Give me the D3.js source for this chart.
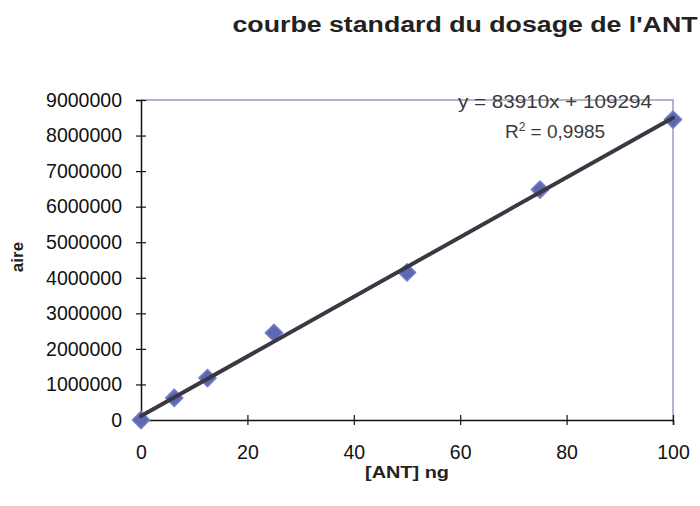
<!DOCTYPE html>
<html>
<head>
<meta charset="utf-8">
<script src="https://cdn.jsdelivr.net/npm/d3@7"></script>
<style>
  body { margin: 0; background: #fff; }
  svg { display: block; font-family: "Liberation Sans", Arial, sans-serif; }
</style>
</head>
<body>
<svg id="chart" width="700" height="506"></svg>
<script>
// data
const concentrations = [0, 6.25, 12.5, 25, 50, 75, 100];
const areas = [0, 620000, 1180000, 2450000, 4150000, 6480000, 8450000];
const xTicks = [0, 20, 40, 60, 80, 100];
const yTicks = [0, 1000000, 2000000, 3000000, 4000000, 5000000, 6000000, 7000000, 8000000, 9000000];
const slope = 83910;
const intercept = 109294;
const eqLabel = "y = 83910x + 109294";
const r2Value = "0,9985";

const svg = d3.select("svg#chart");
const margin = { left: 141, right: 27, top: 100, bottom: 86 };
const width = svg.attr("width") - margin.left - margin.right;
const height = svg.attr("height") - margin.top - margin.bottom;

const x = d3.scaleLinear([0, 100], [0, width]);
const y = d3.scaleLinear([0, 9000000], [height, 0]);

const g = svg.append("g")
  .attr("transform", `translate(${margin.left}, ${margin.top})`);

// title (the scan is a bit wider than the font, so stretch it)
svg.append("text")
  .attr("x", 465)
  .attr("y", 32)
  .attr("text-anchor", "middle")
  .attr("font-size", 22)
  .attr("font-weight", "bold")
  .attr("fill", "#222")
  .attr("textLength", 465)
  .attr("lengthAdjust", "spacingAndGlyphs")
  .text("courbe standard du dosage de l'ANT");

// top/right frame
g.append("path")
  .attr("d", `M0,0H${width}V${height}`)
  .attr("fill", "none")
  .attr("stroke", "#9c9cc4")
  .attr("stroke-width", 1.5);

// axes with cross ticks
const xAxis = g.append("g")
  .attr("transform", `translate(0, ${height})`)
  .call(d3.axisBottom(x).tickValues(xTicks).tickSize(5).tickPadding(20));
xAxis.selectAll(".tick line").attr("y1", -5).attr("y2", 5);

const yAxis = g.append("g")
  .call(d3.axisLeft(y).tickValues(yTicks).tickSize(5).tickPadding(14).tickFormat(d3.format("d")));
yAxis.selectAll(".tick line").attr("x1", 5).attr("x2", -5);

[xAxis, yAxis].forEach(a => {
  a.select(".domain").attr("stroke", "#111").attr("stroke-width", 1.5);
  a.selectAll(".tick line").attr("stroke", "#111").attr("stroke-width", 1.2);
  a.selectAll(".tick text")
    .attr("font-size", 19.5)
    .attr("font-family", "Liberation Sans, Arial, sans-serif")
    .attr("fill", "#111");
});

// axis titles
svg.append("text")
  .attr("x", margin.left + width / 2)
  .attr("y", 478)
  .attr("text-anchor", "middle")
  .attr("font-size", 17)
  .attr("font-weight", "bold")
  .attr("fill", "#222")
  .attr("textLength", 84)
  .attr("lengthAdjust", "spacingAndGlyphs")
  .text("[ANT] ng");

svg.append("text")
  .attr("transform", `translate(23, 257) rotate(-90)`)
  .attr("text-anchor", "middle")
  .attr("font-size", 17)
  .attr("font-weight", "bold")
  .attr("fill", "#222")
  .text("aire");

// markers
g.selectAll("path.pt")
  .data(concentrations.map((c, i) => ({ c: c, a: areas[i] })))
  .join("path")
  .attr("class", "pt")
  .attr("d", d3.symbol(d3.symbolDiamond2, 190))
  .attr("transform", d => `translate(${x(d.c)}, ${y(d.a)})`)
  .attr("fill", "#5d68b4")
  .attr("stroke", "#7780c4")
  .attr("stroke-width", 1.5)
  .attr("stroke-linejoin", "round");

// trendline
const xDom = x.domain();
g.append("line")
  .attr("x1", x(xDom[0]))
  .attr("y1", y(slope * xDom[0] + intercept))
  .attr("x2", x(xDom[1]))
  .attr("y2", y(slope * xDom[1] + intercept))
  .attr("stroke", "#3b3844")
  .attr("stroke-width", 4)
  .attr("stroke-linecap", "round");

// equation
g.append("text")
  .attr("x", 414)
  .attr("y", 8)
  .attr("text-anchor", "middle")
  .attr("font-size", 18.5)
  .attr("fill", "#3a3a3a")
  .attr("textLength", 194)
  .attr("lengthAdjust", "spacingAndGlyphs")
  .text(eqLabel);

const r2 = g.append("text")
  .attr("x", 414)
  .attr("y", 38)
  .attr("text-anchor", "middle")
  .attr("font-size", 19)
  .attr("fill", "#3a3a3a");
r2.append("tspan").text("R");
r2.append("tspan").attr("dy", -7).attr("font-size", 12).text("2");
r2.append("tspan").attr("dy", 7).text(" = " + r2Value);
</script>
</body>
</html>
